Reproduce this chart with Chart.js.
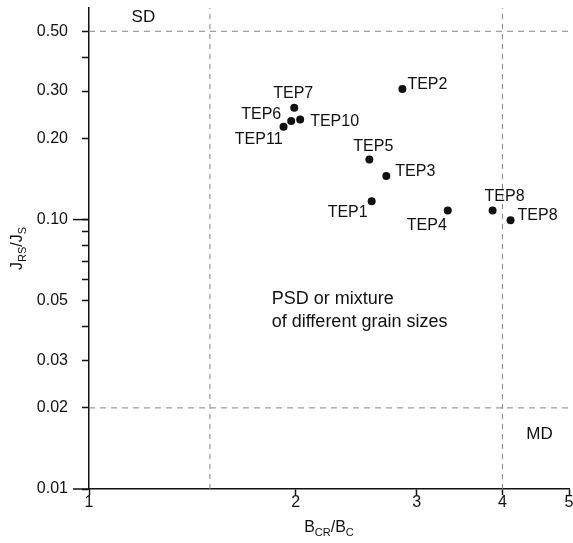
<!DOCTYPE html>
<html lang="en">
<head>
<meta charset="UTF-8">
<title>Day plot - TEP samples</title>
<script src="https://cdn.jsdelivr.net/npm/chart.js"></script>
<style>
  html, body { margin: 0; padding: 0; background: #fff; }
  #wrap { position: relative; width: 573px; height: 543px; }
</style>
</head>
<body>
<div id="wrap"><canvas id="dayPlot"></canvas></div>
<script>
// --- values ---
const sampleNames = ['TEP1', 'TEP2', 'TEP3', 'TEP4', 'TEP5', 'TEP6', 'TEP7', 'TEP8', 'TEP8', 'TEP10', 'TEP11'];
const bcrBc = [2.58, 2.86, 2.71, 3.33, 2.56, 1.97, 1.99, 3.87, 4.11, 2.03, 1.92];
const jrsJs = [0.117, 0.305, 0.145, 0.108, 0.167, 0.232, 0.260, 0.108, 0.0995, 0.235, 0.221];

// domain boundaries (dashed)
const boundaryX = [1.5, 4];
const boundaryY = [0.02, 0.5];

// axes
const xRange = [1, 5];
const yRange = [0.01, 0.61];
const xTickValues = [1, 2, 3, 4, 5];
const xTickLabels = ['1', '2', '3', '4', '5'];
const yTickValues = [0.01, 0.02, 0.03, 0.04, 0.05, 0.06, 0.07, 0.08, 0.09, 0.1, 0.2, 0.3, 0.4, 0.5];
const yTickLabels = ['0.01', '0.02', '0.03', '', '0.05', '', '', '', '', '0.10', '0.20', '0.30', '', '0.50'];

// region annotations (data units)
const regionText = ['SD', 'MD', 'PSD or mixture', 'of different grain sizes'];
const regionX = [1.2, 4.53, 1.845, 1.845];
const regionY = [0.563, 0.0159, 0.0508, 0.0418];

// label placement per sample: [dx, dy, align]
const labelPlace = [
  [-4, 11, 'right'], [5, -5, 'left'], [9, -5, 'left'], [-1, 15, 'right'],
  [4, -13, 'center'], [-10, -7, 'right'], [-1, -14, 'center'], [12, -14, 'center'],
  [7, -5, 'left'], [10, 2, 'left'], [-1, 13, 'right']
];
const regionAlign = ['center', 'center', 'left', 'left'];

const FONT = "'Liberation Sans', Arial, sans-serif";
const INK = '#111';
const DASH = '#858585';

const datasets = [];
boundaryX.forEach(v => datasets.push({
  data: [{ x: v, y: yRange[0] }, { x: v, y: yRange[1] }],
  showLine: true, pointRadius: 0, borderColor: DASH, borderWidth: 1, borderDash: [5, 5]
}));
boundaryY.forEach(v => datasets.push({
  data: [{ x: xRange[0], y: v }, { x: xRange[1], y: v }],
  showLine: true, pointRadius: 0, borderColor: DASH, borderWidth: 1, borderDash: [6, 5]
}));
datasets.push({
  data: bcrBc.map((x, i) => ({ x: x, y: jrsJs[i] })),
  pointRadius: 4, pointHoverRadius: 4, backgroundColor: INK, borderColor: INK, borderWidth: 0
});

// text with subscripts: parts = [[text, isSub], ...]
function drawRich(ctx, parts, cx, baseY) {
  const big = '16px ' + FONT, small = '11px ' + FONT;
  let w = 0;
  parts.forEach(p => { ctx.font = p[1] ? small : big; w += ctx.measureText(p[0]).width; });
  let x = cx - w / 2;
  ctx.textAlign = 'left';
  ctx.textBaseline = 'alphabetic';
  parts.forEach(p => {
    ctx.font = p[1] ? small : big;
    ctx.fillText(p[0], x, baseY + (p[1] ? 4 : 0));
    x += ctx.measureText(p[0]).width;
  });
}

const decorations = {
  id: 'decorations',
  afterDraw(chart) {
    const ctx = chart.ctx, xs = chart.scales.x, ys = chart.scales.y, area = chart.chartArea;
    ctx.save();
    ctx.fillStyle = INK;

    // longer ticks at the decades
    ctx.strokeStyle = INK;
    ctx.lineWidth = 1.5;
    [0.01, 0.1].forEach(v => {
      const py = ys.getPixelForValue(v);
      ctx.beginPath(); ctx.moveTo(area.left - 16, py); ctx.lineTo(area.left, py); ctx.stroke();
    });

    // sample labels
    const meta = chart.getDatasetMeta(chart.data.datasets.length - 1);
    ctx.font = '16px ' + FONT;
    ctx.textBaseline = 'middle';
    meta.data.forEach((pt, i) => {
      const p = labelPlace[i];
      ctx.textAlign = p[2];
      ctx.fillText(sampleNames[i], pt.x + p[0], pt.y + p[1]);
    });

    // region names
    regionText.forEach((t, i) => {
      ctx.font = (i < 2 ? '17px ' : '18px ') + FONT;
      ctx.textAlign = regionAlign[i];
      ctx.fillText(t, xs.getPixelForValue(regionX[i]), ys.getPixelForValue(regionY[i]));
    });

    // axis titles
    drawRich(ctx, [['B', false], ['CR', true], ['/', false], ['B', false], ['C', true]],
      (area.left + area.right) / 2, 532);
    ctx.translate(22, (area.top + area.bottom) / 2);
    ctx.rotate(-Math.PI / 2);
    drawRich(ctx, [['J', false], ['RS', true], ['/', false], ['J', false], ['S', true]], 0, 0);
    ctx.restore();
  }
};

new Chart(document.getElementById('dayPlot'), {
  type: 'scatter',
  data: { datasets: datasets },
  plugins: [decorations],
  options: {
    animation: false,
    responsive: true,
    maintainAspectRatio: false,
    layout: { padding: { left: 0, right: 4, top: 8, bottom: 0 } },
    plugins: { legend: { display: false }, tooltip: { enabled: false } },
    scales: {
      x: {
        type: 'logarithmic', min: xRange[0], max: xRange[1],
        afterBuildTicks: s => { s.ticks = xTickValues.map(v => ({ value: v })); },
        afterFit: s => { s.height = 54; s.paddingLeft = 0; s.paddingRight = 0; },
        ticks: {
          callback: (v, i) => xTickLabels[i], autoSkip: false, maxRotation: 0,
          color: INK, padding: 0, font: { family: FONT, size: 16, lineHeight: 1 }
        },
        grid: { drawOnChartArea: false, drawTicks: true, tickLength: 6, tickColor: INK, tickWidth: 1.5 },
        border: { color: INK, width: 1.5 }
      },
      y: {
        type: 'logarithmic', min: yRange[0], max: yRange[1],
        afterBuildTicks: s => { s.ticks = yTickValues.map(v => ({ value: v })); },
        afterFit: s => { s.width = 89; s.paddingTop = 0; s.paddingBottom = 0; },
        ticks: {
          callback: (v, i) => yTickLabels[i], autoSkip: false,
          color: INK, padding: 14, font: { family: FONT, size: 16, lineHeight: 1 }
        },
        grid: { drawOnChartArea: false, drawTicks: true, tickLength: 7, tickColor: INK, tickWidth: 1.5 },
        border: { color: INK, width: 1.5 }
      }
    }
  }
});
</script>
</body>
</html>
